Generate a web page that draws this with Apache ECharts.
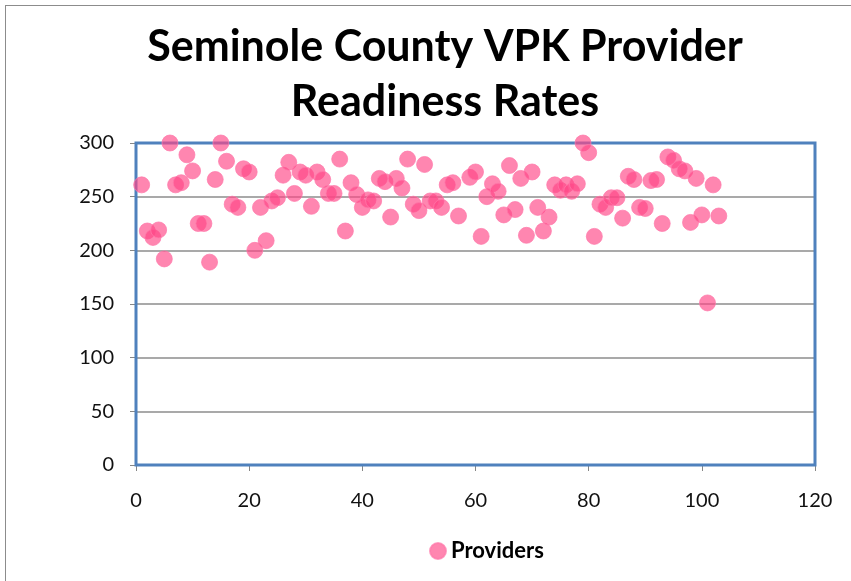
<!DOCTYPE html>
<html>
<head>
<meta charset="utf-8">
<title>Seminole County VPK Provider Readiness Rates</title>
<script src="https://cdn.jsdelivr.net/npm/echarts@6/dist/echarts.min.js"></script>
<style>
  html, body { margin: 0; padding: 0; background: #fff; }
  #frame { position: absolute; left: 5px; top: 5px; width: 851px; height: 581px; border: 1px solid #8c8c8c; box-sizing: border-box; }
  #chart { width: 851px; height: 581px; }
</style>
</head>
<body>
<div id="frame"></div>
<div id="chart"></div>
<script>
// provider index (x) and readiness rate (y)
var providerIdx = [1,2,3,4,5,6,7,8,9,10,11,12,13,14,15,16,17,18,19,20,
  21,22,23,24,25,26,27,28,29,30,31,32,33,34,35,36,37,38,39,40,
  41,42,43,44,45,46,47,48,49,50,51,52,53,54,55,56,57,59,60,61,
  62,63,64,65,66,67,68,69,70,71,72,73,74,75,76,77,78,79,80,81,
  82,83,84,85,86,87,88,89,90,91,92,93,94,95,96,97,98,99,100,101,
  102,103];
var readiness = [261,218,212,219,192,300,261,263,289,274,225,225,189,266,300,283,243,240,276,273,
  200,240,209,246,249,270,282,253,273,270,241,273,266,253,253,285,218,263,252,240,
  247,246,267,264,231,267,258,285,243,237,280,246,246,240,261,263,232,268,273,213,
  250,262,255,233,279,238,267,214,273,240,218,231,261,256,261,255,262,300,291,213,
  243,240,249,249,230,269,266,240,239,265,266,225,287,284,276,274,226,267,233,151,
  261,232];
var xTicks = [0, 120, 20];   // min, max, step
var yTicks = [0, 300, 50];

var points = [];
for (var i = 0; i < providerIdx.length; i++) {
  points.push([providerIdx[i], readiness[i]]);
}

var myChart = echarts.init(document.getElementById('chart'));
var option = {
  animation: false,
  title: {
    text: 'Seminole County VPK Provider\nReadiness Rates',
    left: 440,
    textAlign: 'center',
    top: 15,
    textStyle: {
      fontFamily: 'Lato',
      fontWeight: 'bold',
      fontSize: 43,
      lineHeight: 55,
      color: '#000'
    }
  },
  legend: {
    top: 535,
    left: 424,
    itemWidth: 16,
    itemHeight: 16,
    itemGap: 6,
    textStyle: { fontFamily: 'Lato', fontWeight: 'bold', fontSize: 22, color: '#000' },
    data: [{ name: 'Providers', icon: 'circle' }]
  },
  grid: {
    left: 136,
    right: 36,
    top: 143,
    bottom: 116,
    show: true,
    borderColor: '#4f81bd',
    borderWidth: 3,
    z: 3
  },
  xAxis: {
    type: 'value',
    min: xTicks[0],
    max: xTicks[1],
    interval: xTicks[2],
    axisLine: { show: false },
    axisTick: { show: true, length: 6, lineStyle: { color: '#868686' } },
    splitLine: { show: false },
    axisLabel: { margin: 26, fontFamily: 'Lato', fontSize: 20, color: '#111' }
  },
  yAxis: {
    type: 'value',
    min: yTicks[0],
    max: yTicks[1],
    interval: yTicks[2],
    axisLine: { show: false },
    axisTick: { show: true, length: 6, lineStyle: { color: '#868686' } },
    splitLine: { show: true, lineStyle: { color: '#8c8c8c', width: 1.5 } },
    axisLabel: { margin: 22, fontFamily: 'Lato', fontSize: 20, color: '#111' }
  },
  series: [{
    name: 'Providers',
    type: 'scatter',
    symbol: 'circle',
    symbolSize: 16,
    data: points,
    z: 5,
    itemStyle: { color: 'rgba(255,70,135,0.82)', borderColor: 'rgba(255,120,170,0.9)', borderWidth: 1 }
  }]
};
myChart.setOption(option);
</script>
</body>
</html>
